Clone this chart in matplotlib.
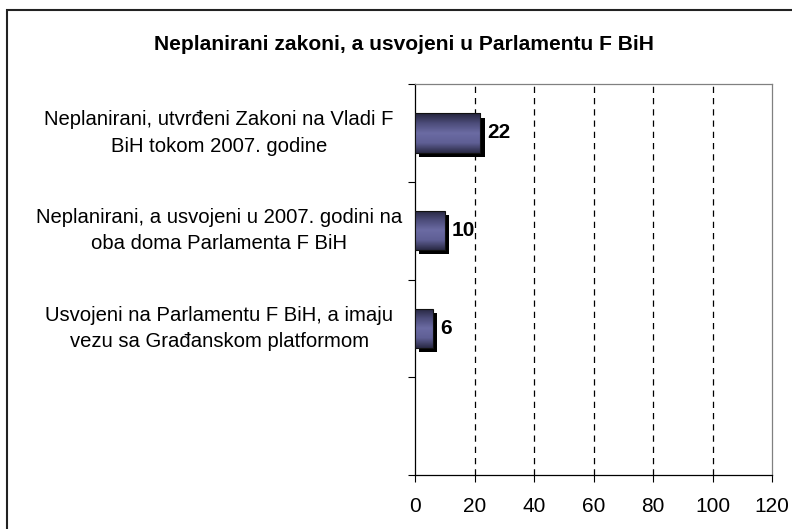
import numpy as np
import matplotlib
matplotlib.use("Agg")
import matplotlib.pyplot as plt
import matplotlib.patheffects as pe
from matplotlib.colors import LinearSegmentedColormap
from matplotlib.patches import Rectangle

# data
title = "Neplanirani zakoni, a usvojeni u Parlamentu F BiH"
categories = [
    "Neplanirani, utvrđeni Zakoni na Vladi F\nBiH tokom 2007. godine",
    "Neplanirani, a usvojeni u 2007. godini na\noba doma Parlamenta F BiH",
    "Usvojeni na Parlamentu F BiH, a imaju\nvezu sa Građanskom platformom",
]
values = [22, 10, 6]
x_ticks = [0, 20, 40, 60, 80, 100, 120]

plt.rcParams['font.family'] = ['Liberation Sans', 'DejaVu Sans']

fig = plt.figure(figsize=(7.92, 5.29), dpi=100)
ax = fig.add_axes([0.524, 0.102, 0.451, 0.739])

pos = np.arange(len(categories))

# shaded bars with a hard black drop shadow
bars = ax.barh(pos, values, height=0.4, color='#55558a', zorder=2,
               path_effects=[pe.SimplePatchShadow(offset=(3, -3), shadow_rgbFace='black', alpha=1.0),
                             pe.Normal()])
cmap = LinearSegmentedColormap.from_list('bar', ['#25253d', '#4c4c7a', '#6b6ba3', '#5f5f95', '#2a2a44'])
grad = np.linspace(0, 1, 100).reshape(-1, 1)
for b in bars:
    x0, y0, w, h = b.get_x(), b.get_y(), b.get_width(), b.get_height()
    im = ax.imshow(grad, extent=[x0, x0 + w, y0 + h, y0], aspect='auto', cmap=cmap, zorder=3)
    im.set_clip_path(b)
ax.barh(pos, values, height=0.4, fill=False, edgecolor='#111111', lw=0.8, zorder=4)

ax.bar_label(bars, labels=[str(v) for v in values], padding=5, fontsize=15, fontweight='bold')

ax.set_xlim(0, 120)
ax.set_ylim(3.5, -0.5)
ax.set_xticks(x_ticks)
ax.set_xticklabels([str(t) for t in x_ticks], fontsize=15)
ax.tick_params(axis='x', direction='out', length=5, width=0.8, pad=11)

ax.set_yticks(pos)
ax.set_yticklabels(categories, fontsize=14.6, ha='center', va='center', linespacing=1.5)
ax.tick_params(axis='y', which='major', length=0, pad=141)
ax.set_yticks(np.arange(-0.5, 4.0, 1.0), minor=True)
ax.tick_params(axis='y', which='minor', direction='out', length=5, width=0.8)

ax.xaxis.grid(True, linestyle=(0, (5, 4)), color='black', lw=0.9)
ax.set_axisbelow(True)
gl = ax.get_xgridlines()
gl[0].set_visible(False)
gl[-1].set_visible(False)

ax.spines['top'].set_color('#808080')
ax.spines['right'].set_color('#808080')
for s in ax.spines.values():
    s.set_linewidth(0.9)

fig.text(0.510, 0.916, title, ha='center', va='center', fontsize=15.1, fontweight='bold')

# outer chart frame
fig.patches.append(Rectangle((7 / 792, -0.1), 1.2, 1.1 - 10 / 529, transform=fig.transFigure,
                             fill=False, edgecolor='#222222', lw=1.5))

fig.savefig('out.png', dpi=100)
